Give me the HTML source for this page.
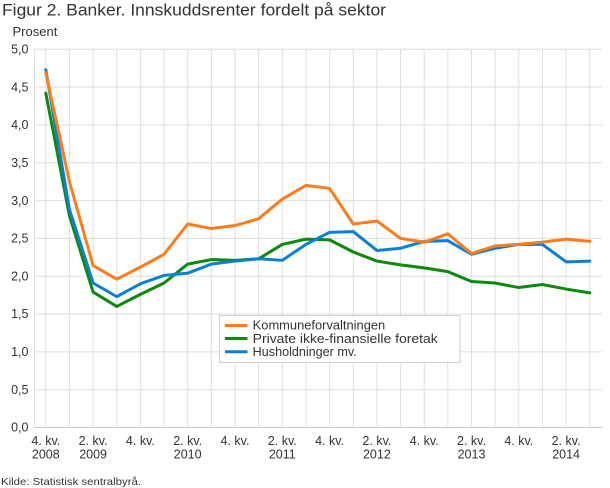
<!DOCTYPE html>
<html><head><meta charset="utf-8">
<style>
html,body{margin:0;padding:0;background:#fff;}
svg{display:block;}
text{font-family:"Liberation Sans",sans-serif;fill:#333;}
</style></head>
<body>
<svg width="610" height="488" viewBox="0 0 610 488" xmlns="http://www.w3.org/2000/svg">
<text x="2" y="15.5" font-size="16.5" textLength="384" lengthAdjust="spacingAndGlyphs" fill="#222">Figur 2. Banker. Innskuddsrenter fordelt på sektor</text>
<text x="12.5" y="36" font-size="13">Prosent</text>

<!-- horizontal gridlines -->
<g stroke="#dedede" stroke-width="1">
<line x1="34" x2="602" y1="49.25" y2="49.25"/>
<line x1="34" x2="602" y1="87.1" y2="87.1"/>
<line x1="34" x2="602" y1="124.9" y2="124.9"/>
<line x1="34" x2="602" y1="162.7" y2="162.7"/>
<line x1="34" x2="602" y1="200.6" y2="200.6"/>
<line x1="34" x2="602" y1="238.4" y2="238.4"/>
<line x1="34" x2="602" y1="276.2" y2="276.2"/>
<line x1="34" x2="602" y1="314.0" y2="314.0"/>
<line x1="34" x2="602" y1="351.9" y2="351.9"/>
<line x1="34" x2="602" y1="389.7" y2="389.7"/>
</g>
<!-- vertical gridlines -->
<g stroke="#dedede" stroke-width="1">
<line x1="34.5" x2="34.5" y1="49" y2="428"/>
<line x1="45.8" x2="45.8" y1="49" y2="428"/>
<line x1="69.45" x2="69.45" y1="49" y2="428"/>
<line x1="93.1" x2="93.1" y1="49" y2="428"/>
<line x1="116.75" x2="116.75" y1="49" y2="428"/>
<line x1="140.4" x2="140.4" y1="49" y2="428"/>
<line x1="164.05" x2="164.05" y1="49" y2="428"/>
<line x1="187.7" x2="187.7" y1="49" y2="428"/>
<line x1="211.35" x2="211.35" y1="49" y2="428"/>
<line x1="235.0" x2="235.0" y1="49" y2="428"/>
<line x1="258.65" x2="258.65" y1="49" y2="428"/>
<line x1="282.3" x2="282.3" y1="49" y2="428"/>
<line x1="305.95" x2="305.95" y1="49" y2="428"/>
<line x1="329.6" x2="329.6" y1="49" y2="428"/>
<line x1="353.25" x2="353.25" y1="49" y2="428"/>
<line x1="376.9" x2="376.9" y1="49" y2="428"/>
<line x1="400.55" x2="400.55" y1="49" y2="428"/>
<line x1="424.2" x2="424.2" y1="49" y2="428"/>
<line x1="447.85" x2="447.85" y1="49" y2="428"/>
<line x1="471.5" x2="471.5" y1="49" y2="428"/>
<line x1="495.15" x2="495.15" y1="49" y2="428"/>
<line x1="518.8" x2="518.8" y1="49" y2="428"/>
<line x1="542.45" x2="542.45" y1="49" y2="428"/>
<line x1="566.1" x2="566.1" y1="49" y2="428"/>
<line x1="589.75" x2="589.75" y1="49" y2="428"/>
</g>
<line x1="34" x2="602" y1="427.5" y2="427.5" stroke="#c8c8c8" stroke-width="1"/>

<!-- y labels -->
<g font-size="12.5" text-anchor="end">
<text x="28.5" y="53.5">5,0</text>
<text x="28.5" y="91.3">4,5</text>
<text x="28.5" y="129.1">4,0</text>
<text x="28.5" y="166.9">3,5</text>
<text x="28.5" y="204.8">3,0</text>
<text x="28.5" y="242.6">2,5</text>
<text x="28.5" y="280.4">2,0</text>
<text x="28.5" y="318.2">1,5</text>
<text x="28.5" y="356.1">1,0</text>
<text x="28.5" y="393.9">0,5</text>
<text x="28.5" y="431.7">0,0</text>
</g>

<!-- x labels -->
<g font-size="12.5" text-anchor="middle">
<text x="45.8" y="445">4. kv.</text><text x="45.8" y="458.5">2008</text>
<text x="93.1" y="445">2. kv.</text><text x="93.1" y="458.5">2009</text>
<text x="140.4" y="445">4. kv.</text>
<text x="187.7" y="445">2. kv.</text><text x="187.7" y="458.5">2010</text>
<text x="235.0" y="445">4. kv.</text>
<text x="282.3" y="445">2. kv.</text><text x="282.3" y="458.5">2011</text>
<text x="329.6" y="445">4. kv.</text>
<text x="376.9" y="445">2. kv.</text><text x="376.9" y="458.5">2012</text>
<text x="424.2" y="445">4. kv.</text>
<text x="471.5" y="445">2. kv.</text><text x="471.5" y="458.5">2013</text>
<text x="518.8" y="445">4. kv.</text>
<text x="566.1" y="445">2. kv.</text><text x="566.1" y="458.5">2014</text>
</g>

<!-- series -->
<g transform="matrix(23.65 0 0 -75.65 45.8 427.5)" fill="none" stroke-linejoin="round" stroke-linecap="round">
<polyline vector-effect="non-scaling-stroke" stroke="#0b8a0b" stroke-width="3"
 points="0,4.42 1,2.80 2,1.79 3,1.60 4,1.76 5,1.91 6,2.16 7,2.22 8,2.21 9,2.23 10,2.42 11,2.49 12,2.48 13,2.32 14,2.20 15,2.15 16,2.11 17,2.06 18,1.93 19,1.91 20,1.85 21,1.89 22,1.83 23,1.78"/>
<polyline vector-effect="non-scaling-stroke" stroke="#0a7fd8" stroke-width="3"
 points="0,4.73 1,2.88 2,1.91 3,1.73 4,1.90 5,2.01 6,2.04 7,2.16 8,2.20 9,2.23 10,2.21 11,2.42 12,2.58 13,2.59 14,2.34 15,2.37 16,2.46 17,2.47 18,2.29 19,2.37 20,2.42 21,2.42 22,2.19 23,2.20"/>
<polyline vector-effect="non-scaling-stroke" stroke="#ff7c1c" stroke-width="3"
 points="0,4.69 1,3.25 2,2.14 3,1.96 4,2.12 5,2.29 6,2.69 7,2.63 8,2.67 9,2.76 10,3.02 11,3.20 12,3.16 13,2.69 14,2.73 15,2.50 16,2.45 17,2.56 18,2.30 19,2.40 20,2.42 21,2.45 22,2.49 23,2.46"/>
</g>

<!-- legend -->
<rect x="219.5" y="315.5" width="240.5" height="47" fill="#fff" stroke="#cfcfcf" stroke-width="1"/>
<line x1="225" x2="247.5" y1="325.5" y2="325.5" stroke="#ff7c1c" stroke-width="3"/>
<line x1="225" x2="247.5" y1="338.5" y2="338.5" stroke="#0b8a0b" stroke-width="3"/>
<line x1="225" x2="247.5" y1="351.8" y2="351.8" stroke="#0a7fd8" stroke-width="3"/>
<g font-size="12.5" fill="#222">
<text x="252.7" y="329.5" textLength="132.5" lengthAdjust="spacingAndGlyphs">Kommuneforvaltningen</text>
<text x="252.7" y="342.8" textLength="185" lengthAdjust="spacingAndGlyphs">Private ikke-finansielle foretak</text>
<text x="252.7" y="356.1" textLength="104" lengthAdjust="spacingAndGlyphs">Husholdninger mv.</text>
</g>

<text x="1" y="485" font-size="10.5" textLength="140" lengthAdjust="spacingAndGlyphs">Kilde: Statistisk sentralbyrå.</text>
</svg>
</body></html>
